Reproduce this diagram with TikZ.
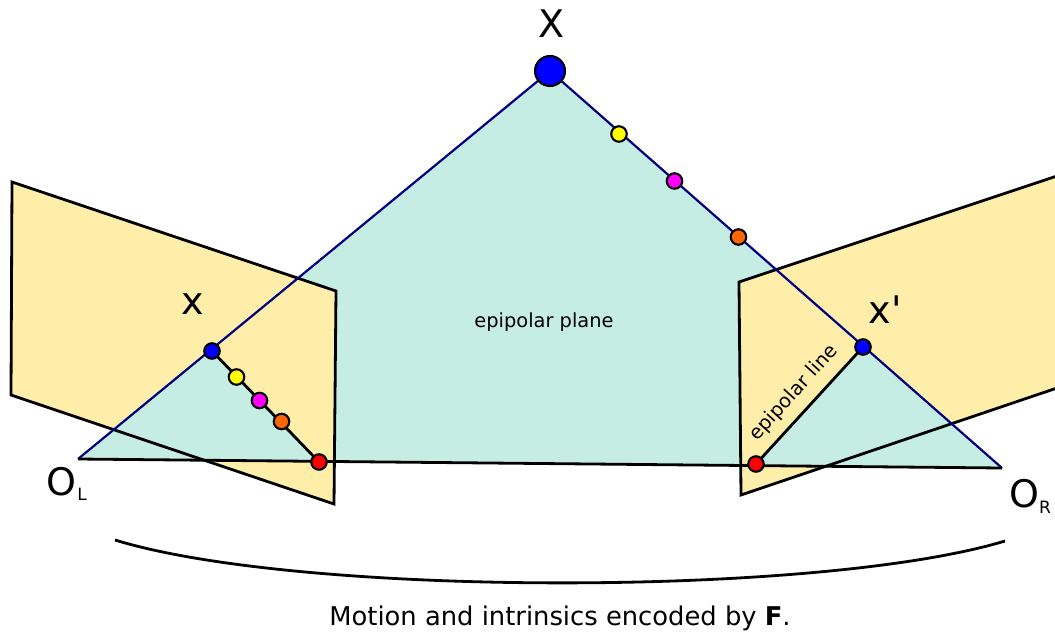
\documentclass[tikz,border=0pt]{standalone}
\usepackage{fontspec}
\setmainfont{DejaVu Sans}
\definecolor{planeY}{HTML}{FFEEAA}
\definecolor{planeG}{HTML}{C6EDE4}
\definecolor{ray}{HTML}{000080}
\definecolor{dotM}{HTML}{FF00FF}
\definecolor{dotO}{HTML}{FF6600}
\definecolor{dotB}{HTML}{0000FF}
\definecolor{dotY}{HTML}{FFFF00}
\definecolor{dotR}{HTML}{FF0000}
\tikzset{
  pt/.style={circle,draw=black,line width=2.1pt,inner sep=0pt,minimum size=15.5pt},
  bigpt/.style={pt,minimum size=30pt},
  rayline/.style={draw=ray,line width=2.2pt},
  blk/.style={draw=black,line width=2.8pt},
  imgplane/.style={draw=black,line width=2.8pt,line join=miter},
  lbl/.style={inner sep=0pt,font=\fontsize{38}{38}\selectfont},
  sublbl/.style={inner sep=0pt,font=\fontsize{17}{17}\selectfont},
  smalltext/.style={inner sep=0pt,font=\fontsize{19.4}{19.4}\selectfont}
}
\begin{document}
\begin{tikzpicture}[x=1pt,y=-1pt]
\useasboundingbox (0,0) rectangle (1055,635);
\coordinate (OL) at (78,459);
\coordinate (OR) at (1002,468);
\coordinate (XP) at (550,71);
\coordinate (xl) at (212,351);
\coordinate (xr) at (863,347);
\coordinate (el) at (319,462);
\coordinate (er) at (756,464);
\fill[planeG] (OL) -- (XP) -- (OR) -- cycle;
\fill[planeY] (12,182) -- (336,291) -- (334,504) -- (11,395) -- cycle;
\fill[planeY] (1057,176) -- (739,282) -- (741,495) -- (1057,388);
\fill[planeG] (OL) -- (xl) -- (el) -- cycle;
\fill[planeG] (OR) -- (xr) -- (er) -- cycle;
\draw[imgplane] (12,182) -- (336,291) -- (334,504) -- (11,395) -- cycle;
\draw[imgplane] (1057,176) -- (739,282) -- (741,495) -- (1057,388);
\draw[rayline] (XP) -- (OL);
\draw[rayline] (XP) -- (OR);
\draw[blk] (OL) -- (OR);
\draw[blk] (xl) -- (el);
\draw[blk] (xr) -- (er);
\draw[blk] (115,540) .. controls (300,597) and (820,597) .. (1005,541);
\node[bigpt,fill=dotB] (nX) at (XP) {};
\node[pt,fill=dotY] (a1) at (619,134) {};
\node[pt,fill=dotM] (a2) at (674.5,181) {};
\node[pt,fill=dotO] (a3) at (738.5,237) {};
\node[pt,fill=dotB] (nxl) at (xl) {};
\node[pt,fill=dotY] (b1) at (236.5,377) {};
\node[pt,fill=dotM] (b2) at (259.5,400.5) {};
\node[pt,fill=dotO] (b3) at (281.5,421.5) {};
\node[pt,fill=dotR] (nel) at (el) {};
\node[pt,fill=dotB] (nxr) at (xr) {};
\node[pt,fill=dotR] (ner) at (er) {};
\node[lbl] (tX) at (552,24) {X};
\node[lbl] (tx) at (193,304) {x};
\node[lbl] (txp) at (885,310) {x\textquotesingle};
\node[lbl] (tOL) at (61,482) {O};
\node[sublbl] (tL) at (82,494) {L};
\node[lbl] (tOR) at (1024,494) {O};
\node[sublbl] (tR) at (1045,507) {R};
\node[smalltext] (tplane) at (544,322) {epipolar plane};
\node[smalltext,rotate=48] (tline) at (794,393) {epipolar line};
\node[inner sep=0pt,font=\fontsize{25.8}{25.8}\selectfont] (tcap) at (560,618) {Motion and intrinsics encoded by \textbf{F}.};
\end{tikzpicture}
\end{document}
